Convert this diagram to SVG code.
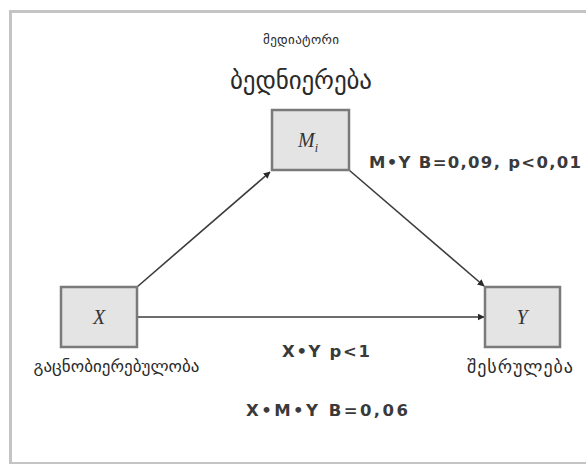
<svg xmlns="http://www.w3.org/2000/svg" width="586" height="464" viewBox="0 0 586 464">
  <style>
    .frame { fill: #ffffff; stroke: #c4c4c4; stroke-width: 3; }
    .box { fill: #e4e4e4; stroke: #7a7a7a; stroke-width: 2.5; }
    .var { font-family: "Liberation Serif", serif; font-style: italic; font-size: 20px; fill: #333333; text-anchor: middle; }
    .geo { font-family: "DejaVu Sans", "Noto Sans", sans-serif; fill: #2a2a2a; text-anchor: middle; }
    .stat { font-family: "DejaVu Sans", sans-serif; font-weight: bold; font-size: 16.5px; fill: #3a3a3a; text-anchor: middle; }
    .conn { stroke: #3c3c3c; stroke-width: 1.6; fill: none; marker-end: url(#arrow); }
  </style>
  <defs>
    <marker id="arrow" viewBox="0 0 10 10" refX="9" refY="5" markerWidth="7" markerHeight="7" orient="auto" markerUnits="userSpaceOnUse">
      <path d="M0,0 L10,5 L0,10 z" fill="#2a2a2a"/>
    </marker>
  </defs>

  <!-- outer frame -->
  <rect class="frame" x="10.5" y="11.5" width="580" height="452"/>

  <!-- connectors -->
  <g id="connectors">
    <line class="conn" x1="137" y1="287" x2="270" y2="172"/>
    <line class="conn" x1="349" y1="170" x2="484" y2="286"/>
    <line class="conn" x1="138" y1="317" x2="484" y2="317"/>
  </g>

  <!-- mediator -->
  <g id="node-m">
    <rect class="box" x="272" y="110" width="77" height="60"/>
    <text class="var" x="308" y="147">M<tspan font-size="12" dy="5">i</tspan></text>
    <text class="geo" x="301" y="44" font-size="13" fill="#555555" textLength="76" lengthAdjust="spacing">მედიატორი</text>
    <text class="geo" x="301" y="89" font-size="25" textLength="142" lengthAdjust="spacing">ბედნიერება</text>
  </g>

  <!-- predictor -->
  <g id="node-x">
    <rect class="box" x="61" y="287" width="76" height="60"/>
    <text class="var" x="99" y="324">X</text>
    <text class="geo" x="116.5" y="372" font-size="17" textLength="166" lengthAdjust="spacing">გაცნობიერებულობა</text>
  </g>

  <!-- outcome -->
  <g id="node-y">
    <rect class="box" x="485" y="287" width="75" height="60"/>
    <text class="var" x="522" y="324">Y</text>
    <text class="geo" x="520" y="373" font-size="18" textLength="106" lengthAdjust="spacing">შესრულება</text>
  </g>

  <!-- path coefficients -->
  <g id="labels">
    <text class="stat" x="475" y="168" textLength="212" lengthAdjust="spacing">M•Y B=0,09, p&lt;0,01</text>
    <text class="stat" x="326" y="357" textLength="88" lengthAdjust="spacing">X•Y p&lt;1</text>
    <text class="stat" x="327" y="416" textLength="162" lengthAdjust="spacing">X•M•Y B=0,06</text>
  </g>
</svg>
